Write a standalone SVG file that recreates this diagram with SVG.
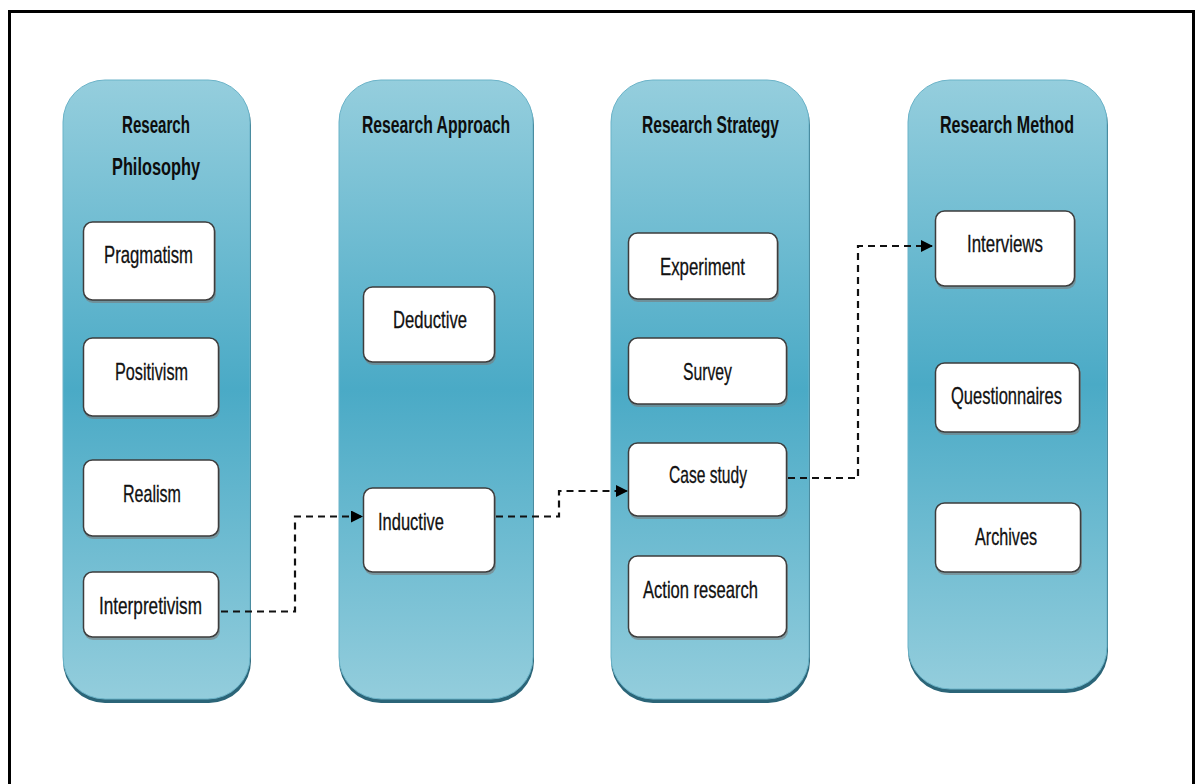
<svg xmlns="http://www.w3.org/2000/svg" width="1195" height="784" viewBox="0 0 1195 784">
<defs>
<linearGradient id="colGrad" x1="0" y1="0" x2="0" y2="1">
<stop offset="0" stop-color="#95CEDD"/>
<stop offset="0.5" stop-color="#4AAAC6"/>
<stop offset="1" stop-color="#93CDDC"/>
</linearGradient>
<marker id="arrow" markerWidth="12" markerHeight="12" refX="11" refY="6" orient="auto" markerUnits="userSpaceOnUse">
<path d="M0,0 L12,6 L0,12 Z" fill="#000"/>
</marker>
<style>
.frame{fill:none;stroke:#000;stroke-width:3}
.colShadow{fill:#2B6578}
.col{fill:url(#colGrad);stroke:#6BB3C8;stroke-width:1}
.boxShadow{fill:#7a7a7a;opacity:0.6}
.box{fill:#fff;stroke:#3d3d3d;stroke-width:1.5}
.head{font-family:"Liberation Sans",Arial,sans-serif;font-weight:bold;font-size:23px;fill:#0d0d0d}
.lbl{font-family:"Liberation Sans",Arial,sans-serif;font-size:24px;fill:#111;stroke:#111;stroke-width:0.3}
.conn{fill:none;stroke:#111;stroke-width:2.2;stroke-dasharray:7 5}
</style>
</defs>
<rect width="1195" height="784" fill="#fff"/>
<path class="frame" d="M9.5,800 V11.5 H1193.5 V800"/>

<g id="col-philosophy">
<rect class="colShadow" x="63" y="83" width="188" height="620" rx="42" ry="42"/>
<rect class="col" x="63" y="80" width="187" height="619" rx="42" ry="42"/>
<text class="head" x="122" y="133" textLength="68" lengthAdjust="spacingAndGlyphs">Research</text>
<text class="head" x="112" y="175" textLength="88" lengthAdjust="spacingAndGlyphs">Philosophy</text>
</g>
<g id="col-approach">
<rect class="colShadow" x="339" y="83" width="195" height="620" rx="42" ry="42"/>
<rect class="col" x="339" y="80" width="194" height="619" rx="42" ry="42"/>
<text class="head" x="362" y="133" textLength="148" lengthAdjust="spacingAndGlyphs">Research Approach</text>
</g>
<g id="col-strategy">
<rect class="colShadow" x="611" y="83" width="199" height="620" rx="42" ry="42"/>
<rect class="col" x="611" y="80" width="198" height="619" rx="42" ry="42"/>
<text class="head" x="642" y="133" textLength="137" lengthAdjust="spacingAndGlyphs">Research Strategy</text>
</g>
<g id="col-method">
<rect class="colShadow" x="908" y="83" width="200" height="610" rx="42" ry="42"/>
<rect class="col" x="908" y="80" width="199" height="609" rx="42" ry="42"/>
<text class="head" x="940" y="133" textLength="134" lengthAdjust="spacingAndGlyphs">Research Method</text>
</g>

<g id="pragmatism">
<rect class="boxShadow" x="84" y="224" width="132" height="79" rx="9"/>
<rect class="box" x="83.5" y="222" width="131" height="78" rx="9"/>
<text class="lbl" x="104" y="263" textLength="89" lengthAdjust="spacingAndGlyphs">Pragmatism</text>
</g>
<g id="positivism">
<rect class="boxShadow" x="84" y="340" width="136" height="79" rx="9"/>
<rect class="box" x="83.5" y="338" width="135" height="78" rx="9"/>
<text class="lbl" x="115" y="380" textLength="73" lengthAdjust="spacingAndGlyphs">Positivism</text>
</g>
<g id="realism">
<rect class="boxShadow" x="84" y="462" width="136" height="77" rx="9"/>
<rect class="box" x="83.5" y="460" width="135" height="76" rx="9"/>
<text class="lbl" x="123" y="502" textLength="58" lengthAdjust="spacingAndGlyphs">Realism</text>
</g>
<g id="interpretivism">
<rect class="boxShadow" x="84" y="574" width="136" height="66" rx="9"/>
<rect class="box" x="83.5" y="572" width="135" height="65" rx="9"/>
<text class="lbl" x="99" y="614" textLength="103" lengthAdjust="spacingAndGlyphs">Interpretivism</text>
</g>

<g id="deductive">
<rect class="boxShadow" x="364" y="289" width="132" height="76" rx="9"/>
<rect class="box" x="363.5" y="287" width="131" height="75" rx="9"/>
<text class="lbl" x="393" y="328" textLength="74" lengthAdjust="spacingAndGlyphs">Deductive</text>
</g>
<g id="inductive">
<rect class="boxShadow" x="364" y="490" width="132" height="85" rx="9"/>
<rect class="box" x="363.5" y="488" width="131" height="84" rx="9"/>
<text class="lbl" x="378" y="530" textLength="66" lengthAdjust="spacingAndGlyphs">Inductive</text>
</g>

<g id="experiment">
<rect class="boxShadow" x="629" y="235" width="150" height="67" rx="9"/>
<rect class="box" x="628.5" y="233" width="149" height="66" rx="9"/>
<text class="lbl" x="660" y="275" textLength="85" lengthAdjust="spacingAndGlyphs">Experiment</text>
</g>
<g id="survey">
<rect class="boxShadow" x="629" y="340" width="159" height="67" rx="9"/>
<rect class="box" x="628.5" y="338" width="158" height="66" rx="9"/>
<text class="lbl" x="683" y="380" textLength="49" lengthAdjust="spacingAndGlyphs">Survey</text>
</g>
<g id="case-study">
<rect class="boxShadow" x="629" y="445" width="159" height="74" rx="9"/>
<rect class="box" x="628.5" y="443" width="158" height="73" rx="9"/>
<text class="lbl" x="669" y="483" textLength="78" lengthAdjust="spacingAndGlyphs">Case study</text>
</g>
<g id="action-research">
<rect class="boxShadow" x="629" y="558" width="159" height="82" rx="9"/>
<rect class="box" x="628.5" y="556" width="158" height="81" rx="9"/>
<text class="lbl" x="643" y="598" textLength="115" lengthAdjust="spacingAndGlyphs">Action research</text>
</g>

<g id="interviews">
<rect class="boxShadow" x="936" y="213" width="140" height="76" rx="9"/>
<rect class="box" x="935.5" y="211" width="139" height="75" rx="9"/>
<text class="lbl" x="967" y="252" textLength="76" lengthAdjust="spacingAndGlyphs">Interviews</text>
</g>
<g id="questionnaires">
<rect class="boxShadow" x="936" y="365" width="145" height="70" rx="9"/>
<rect class="box" x="935.5" y="363" width="144" height="69" rx="9"/>
<text class="lbl" x="951" y="404" textLength="111" lengthAdjust="spacingAndGlyphs">Questionnaires</text>
</g>
<g id="archives">
<rect class="boxShadow" x="936" y="505" width="146" height="70" rx="9"/>
<rect class="box" x="935.5" y="503" width="145" height="69" rx="9"/>
<text class="lbl" x="975" y="545" textLength="62" lengthAdjust="spacingAndGlyphs">Archives</text>
</g>

<g id="connectors">
<path class="conn" d="M221,611.5 H295 V516.5 H362" marker-end="url(#arrow)"/>
<path class="conn" d="M496,516.5 H559 V491 H627" marker-end="url(#arrow)"/>
<path class="conn" d="M788,478 H858 V246 H932" marker-end="url(#arrow)"/>
</g>
</svg>
